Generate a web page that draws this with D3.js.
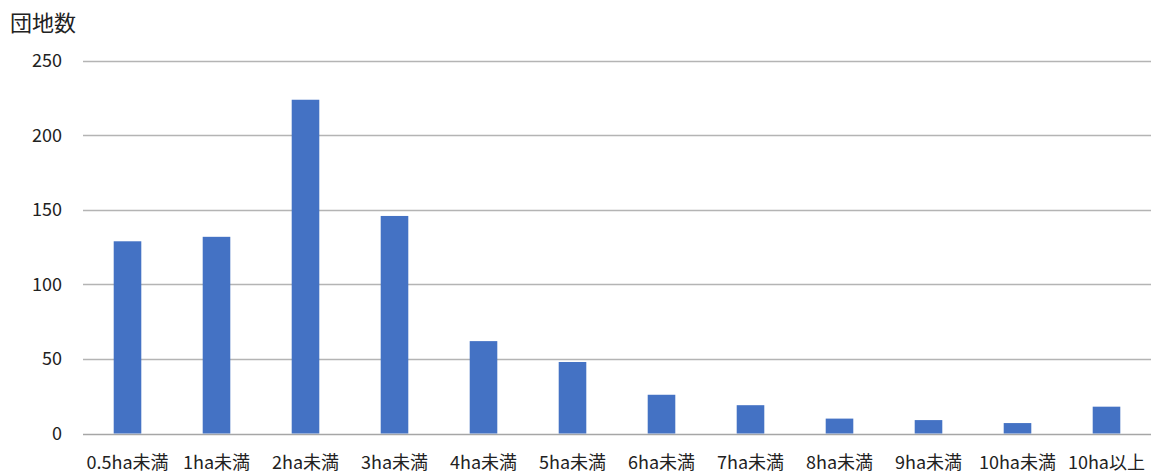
<!DOCTYPE html>
<html>
<head>
<meta charset="utf-8">
<script src="https://cdn.jsdelivr.net/npm/d3@7"></script>
<style>
  html, body { margin: 0; padding: 0; background: #fff; }
  svg { display: block; font-family: "Noto Sans CJK JP", "Noto Sans", sans-serif; }
</style>
</head>
<body>
<svg id="chart" width="1153" height="475"></svg>
<script>
// 面積区分ごとの団地数
const categories = ["0.5ha未満", "1ha未満", "2ha未満", "3ha未満", "4ha未満", "5ha未満",
                    "6ha未満", "7ha未満", "8ha未満", "9ha未満", "10ha未満", "10ha以上"];
const counts = [129, 132, 224, 146, 62, 48, 26, 19, 10, 9, 7, 18];
const yTicks = [0, 50, 100, 150, 200, 250];
const yTitle = "団地数";

const svg = d3.select("#chart");
const plot = { left: 83, right: 1151, top: 61, bottom: 433.5 };

const x = d3.scaleBand().domain(categories).range([plot.left, plot.right]).padding(0);
const y = d3.scaleLinear().domain([0, 250]).range([plot.bottom, plot.top]);
const barW = x.bandwidth() * 0.31;

// 目盛り線
svg.append("g")
  .selectAll("line")
  .data(yTicks)
  .join("line")
  .attr("x1", plot.left).attr("x2", plot.right)
  .attr("y1", d => Math.round(y(d)) + 0.5)
  .attr("y2", d => Math.round(y(d)) + 0.5)
  .attr("stroke", d => d === 0 ? "#a6a6a6" : "#b4b4b4")
  .attr("stroke-width", 1.3);

// 縦軸ラベル
svg.append("g")
  .selectAll("text")
  .data(yTicks)
  .join("text")
  .attr("x", 62)
  .attr("y", d => y(d))
  .attr("dy", "0.35em")
  .attr("text-anchor", "end")
  .attr("font-size", 18)
  .attr("fill", "#222")
  .text(d => d);

// 棒
svg.append("g")
  .selectAll("rect")
  .data(counts)
  .join("rect")
  .attr("x", (d, i) => x(categories[i]) + x.bandwidth() / 2 - barW / 2)
  .attr("y", d => y(d))
  .attr("width", barW)
  .attr("height", d => y(0) - y(d))
  .attr("fill", "#4472C4");

// 横軸ラベル
svg.append("g")
  .selectAll("text")
  .data(categories)
  .join("text")
  .attr("x", d => x(d) + x.bandwidth() / 2)
  .attr("y", 463)
  .attr("dy", "0.35em")
  .attr("text-anchor", "middle")
  .attr("font-size", 18)
  .attr("fill", "#222")
  .text(d => d);

// 軸タイトル
svg.append("text")
  .attr("x", 10)
  .attr("y", 23)
  .attr("dy", "0.35em")
  .attr("font-size", 22)
  .attr("fill", "#222")
  .text(yTitle);
</script>
</body>
</html>
